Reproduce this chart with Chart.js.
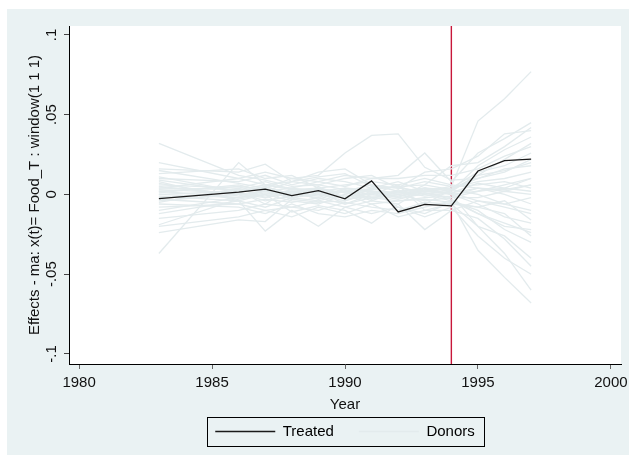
<!DOCTYPE html>
<html lang="en">
<head>
    <meta charset="UTF-8">
    <title>Effects - Food_T</title>
    <style>
        body {
            margin: 0;
            background-color: #ffffff;
        }
        #chart-container {
            width: 629px;
            height: 462px;
        }
    </style>
</head>
<body>
    <div id="chart-container">
        <canvas id="chart" width="629" height="462"></canvas>
    </div>

    <script src="https://cdn.jsdelivr.net/npm/chart.js"></script>

    <script>
        // years present in the series (1984/85 are not in the data, lines join 1983 to 1986)
        const years = [1983, 1986, 1987, 1988, 1989, 1990, 1991, 1992, 1993, 1994, 1995, 1996, 1997];

        const treated = [-0.0026, 0.0014, 0.0033, -0.0007, 0.0024, -0.0028, 0.0085, -0.0110, -0.0062, -0.0072, 0.0147, 0.0212, 0.0221];

        // donor placebo effects, one row per donor
        const donors = [
            [0.032, 0.012, 0.009, 0.005, 0.006, 0.003, 0.002, 0.001, 0.004, 0.003, 0.012, 0.015, 0.020],
            [-0.037, 0.020, 0.006, 0.003, 0.004, -0.002, 0.001, 0.000, 0.002, 0.001, 0.007, 0.004, 0.010],
            [0.016, 0.014, 0.019, 0.008, 0.011, 0.013, 0.005, 0.004, 0.008, 0.005, 0.046, 0.060, 0.077],
            [0.015, 0.007, 0.004, 0.010, 0.012, 0.026, 0.037, 0.038, 0.017, 0.009, 0.010, 0.016, 0.018],
            [-0.024, -0.016, -0.017, -0.003, -0.005, -0.004, 0.002, -0.008, -0.012, -0.005, -0.035, -0.052, -0.068],
            [0.008, -0.004, -0.023, -0.010, -0.020, -0.008, -0.004, -0.006, 0.004, 0.000, -0.020, -0.037, -0.060],
            [-0.019, -0.003, 0.000, -0.011, -0.007, -0.010, -0.018, -0.006, -0.022, -0.010, -0.015, -0.028, -0.045],
            [0.004, 0.003, 0.006, 0.004, 0.008, 0.005, 0.010, 0.012, 0.026, 0.008, 0.026, 0.035, 0.045],
            [0.002, 0.005, 0.003, 0.001, 0.002, 0.004, 0.003, 0.005, 0.006, 0.018, 0.020, 0.030, 0.042],
            [-0.004, 0.000, 0.002, -0.002, 0.000, -0.004, 0.001, -0.002, 0.000, -0.004, -0.010, -0.022, -0.030],
            [0.006, 0.004, 0.008, 0.003, 0.001, 0.002, 0.006, 0.002, 0.004, 0.002, 0.012, 0.022, 0.032],
            [-0.008, -0.006, -0.003, -0.005, -0.002, -0.006, -0.002, -0.004, -0.003, -0.005, -0.008, -0.012, -0.026],
            [0.010, 0.008, 0.012, 0.006, 0.010, 0.008, 0.004, 0.008, 0.002, 0.004, 0.014, 0.018, 0.026],
            [-0.012, -0.004, -0.008, -0.002, -0.004, 0.000, -0.006, -0.004, -0.002, -0.001, 0.004, 0.002, 0.006],
            [0.002, -0.002, 0.000, 0.002, -0.003, 0.002, 0.000, 0.002, -0.001, 0.001, -0.004, -0.008, -0.012],
            [0.000, 0.002, 0.004, 0.000, 0.004, 0.001, -0.002, 0.000, 0.003, 0.004, 0.008, 0.010, 0.014],
            [-0.015, -0.010, -0.006, -0.008, -0.010, -0.005, -0.008, -0.010, -0.005, -0.006, -0.020, -0.026, -0.040],
            [0.013, 0.016, 0.010, 0.012, 0.004, 0.006, 0.008, 0.006, 0.010, 0.006, 0.004, 0.000, -0.006],
            [0.005, 0.000, -0.002, 0.002, 0.001, -0.002, 0.003, 0.005, 0.000, 0.002, 0.018, 0.028, 0.036],
            [-0.002, 0.001, -0.004, -0.001, 0.002, -0.001, 0.000, -0.003, 0.001, -0.002, 0.002, 0.004, 0.002],
            [-0.006, -0.008, -0.012, -0.006, -0.012, -0.014, -0.010, -0.012, -0.008, -0.004, -0.012, -0.020, -0.022],
            [0.001, 0.006, 0.002, 0.008, 0.006, 0.010, 0.012, 0.004, 0.002, 0.005, 0.006, 0.008, 0.004],
            [0.009, 0.002, 0.005, 0.000, -0.002, 0.004, 0.002, -0.002, 0.006, 0.003, 0.000, -0.006, -0.010],
            [-0.010, -0.002, 0.002, 0.004, 0.000, 0.002, -0.004, 0.002, 0.004, 0.000, -0.006, -0.014, -0.018],
            [0.003, 0.001, -0.001, 0.003, 0.003, 0.001, 0.002, 0.001, 0.002, 0.001, 0.004, 0.003, 0.006],
            [-0.001, -0.004, 0.000, -0.004, -0.006, 0.000, 0.004, 0.000, -0.004, -0.002, -0.002, 0.002, 0.000],
            [0.020, 0.010, 0.006, 0.008, 0.014, 0.016, 0.006, 0.004, 0.014, 0.016, 0.024, 0.038, 0.040],
            [-0.005, 0.004, -0.002, 0.001, -0.001, 0.003, -0.003, 0.003, -0.006, 0.003, 0.010, 0.014, 0.022],
            [0.007, -0.001, 0.003, -0.003, 0.005, -0.003, -0.001, -0.001, 0.001, -0.003, -0.012, -0.018, -0.024],
            [-0.003, -0.006, -0.010, -0.008, -0.004, -0.008, -0.012, -0.008, -0.014, -0.008, -0.026, -0.040, -0.050],
            [0.004, 0.010, 0.014, 0.010, 0.008, 0.012, 0.010, 0.010, 0.012, 0.012, 0.016, 0.024, 0.030],
            [-0.020, -0.014, -0.010, -0.014, -0.008, -0.012, -0.006, -0.014, -0.010, -0.010, -0.004, -0.006, -0.002],
            [0.011, 0.002, -0.006, 0.004, 0.002, -0.006, 0.000, 0.006, -0.010, -0.006, -0.008, -0.004, -0.016],
            [0.000, -0.002, 0.001, -0.001, 0.000, -0.002, 0.001, -0.001, 0.002, 0.000, 0.002, 0.006, 0.010]
        ];

        const treatmentYear = 1994;
        const xTicks = [1980, 1985, 1990, 1995, 2000];
        const yTicks = [-0.1, -0.05, 0, 0.05, 0.1];
        const yTickLabels = ['-.1', '-.05', '0', '.05', '.1'];
        const xMin = 1979.62, xMax = 2000.38;
        const yMin = -0.1063, yMax = 0.1056;

        const FONT = "'Liberation Sans', Arial, sans-serif";
        const DONOR_COLOR = '#e3ebed';

        const toPoints = values => values.map((v, i) => ({ x: years[i], y: v }));

        const datasets = [];
        datasets.push({
            label: 'Treated',
            data: toPoints(treated),
            borderColor: '#1a1a1a',
            borderWidth: 1.3,
            pointRadius: 0,
            tension: 0
        });
        donors.forEach(row => {
            datasets.push({
                label: 'Donors',
                data: toPoints(row),
                borderColor: DONOR_COLOR,
                borderWidth: 1.3,
                pointRadius: 0,
                tension: 0
            });
        });
        // vertical treatment line, drawn under the donors
        datasets.push({
            label: '',
            data: [{ x: treatmentYear, y: yMin }, { x: treatmentYear, y: yMax }],
            borderColor: '#c8173a',
            borderWidth: 1.4,
            pointRadius: 0
        });

        // stata style backgrounds + box around legend
        const backgroundPlugin = {
            id: 'stataBackground',
            beforeDraw(chart) {
                const ctx = chart.ctx;
                const a = chart.chartArea;
                ctx.save();
                ctx.fillStyle = '#ffffff';
                ctx.fillRect(0, 0, chart.width, chart.height);
                ctx.fillStyle = '#eaf2f3';
                ctx.fillRect(7, 9, chart.width - 7, chart.height - 16);
                ctx.fillStyle = '#ffffff';
                ctx.fillRect(a.left, a.top, a.right - a.left, a.bottom - a.top);
                ctx.restore();
            },
            afterDraw(chart) {
                const boxes = chart.legend.legendHitBoxes;
                if (!boxes || !boxes.length) return;
                const first = boxes[0], last = boxes[boxes.length - 1];
                const left = first.left - 8;
                const right = last.left + last.width + 10;
                const top = first.top - 7;
                const bottom = first.top + first.height + 7;
                const ctx = chart.ctx;
                ctx.save();
                ctx.strokeStyle = '#000000';
                ctx.lineWidth = 1;
                ctx.strokeRect(Math.round(left) + 0.5, Math.round(top) + 0.5, Math.round(right - left), Math.round(bottom - top));
                ctx.restore();
            }
        };

        new Chart(document.getElementById('chart').getContext('2d'), {
            type: 'line',
            data: { datasets: datasets },
            plugins: [backgroundPlugin],
            options: {
                responsive: false,
                animation: false,
                events: [],
                layout: {
                    padding: { left: 26, top: 26, right: 8, bottom: 13 }
                },
                plugins: {
                    tooltip: { enabled: false },
                    legend: {
                        position: 'bottom',
                        fullSize: false,
                        labels: {
                            usePointStyle: true,
                            pointStyle: 'line',
                            pointStyleWidth: 60,
                            padding: 25,
                            color: '#000',
                            font: { family: FONT, size: 15 },
                            filter: item => item.datasetIndex <= 1
                        }
                    }
                },
                scales: {
                    x: {
                        type: 'linear',
                        min: xMin,
                        max: xMax,
                        afterBuildTicks: scale => { scale.ticks = xTicks.map(v => ({ value: v })); },
                        afterFit: scale => {
                            scale.height = 35;
                            // let the 2000 label run past the plot edge, like stata
                            scale.paddingLeft = 0;
                            scale.paddingRight = 0;
                        },
                        grid: { drawOnChartArea: false, tickLength: 5, color: '#666' },
                        border: { color: '#000', width: 1 },
                        ticks: {
                            padding: 5,
                            color: '#111',
                            maxRotation: 0,
                            font: { family: FONT, size: 15 },
                            callback: v => String(v)
                        },
                        title: {
                            display: true,
                            text: 'Year',
                            color: '#111',
                            font: { family: FONT, size: 15 },
                            padding: { top: 0, bottom: -15 }
                        }
                    },
                    y: {
                        type: 'linear',
                        min: yMin,
                        max: yMax,
                        afterBuildTicks: scale => { scale.ticks = yTicks.map(v => ({ value: v })); },
                        afterFit: scale => {
                            scale.width = 43;
                            scale.paddingTop = 0;
                            scale.paddingBottom = 0;
                        },
                        grid: { drawOnChartArea: false, tickLength: 5, color: '#444' },
                        border: { color: '#000', width: 1 },
                        ticks: {
                            minRotation: 90,
                            maxRotation: 90,
                            crossAlign: 'center',
                            padding: -1,
                            color: '#111',
                            font: { family: FONT, size: 15 },
                            callback: (v, i) => yTickLabels[yTicks.indexOf(v)] ?? ''
                        },
                        title: {
                            display: true,
                            text: 'Effects - ma: x(t)= Food_T : window(1 1 1)',
                            color: '#111',
                            font: { family: FONT, size: 15 },
                            padding: { top: 0, bottom: 0 }
                        }
                    }
                }
            }
        });
    </script>
</body>
</html>
